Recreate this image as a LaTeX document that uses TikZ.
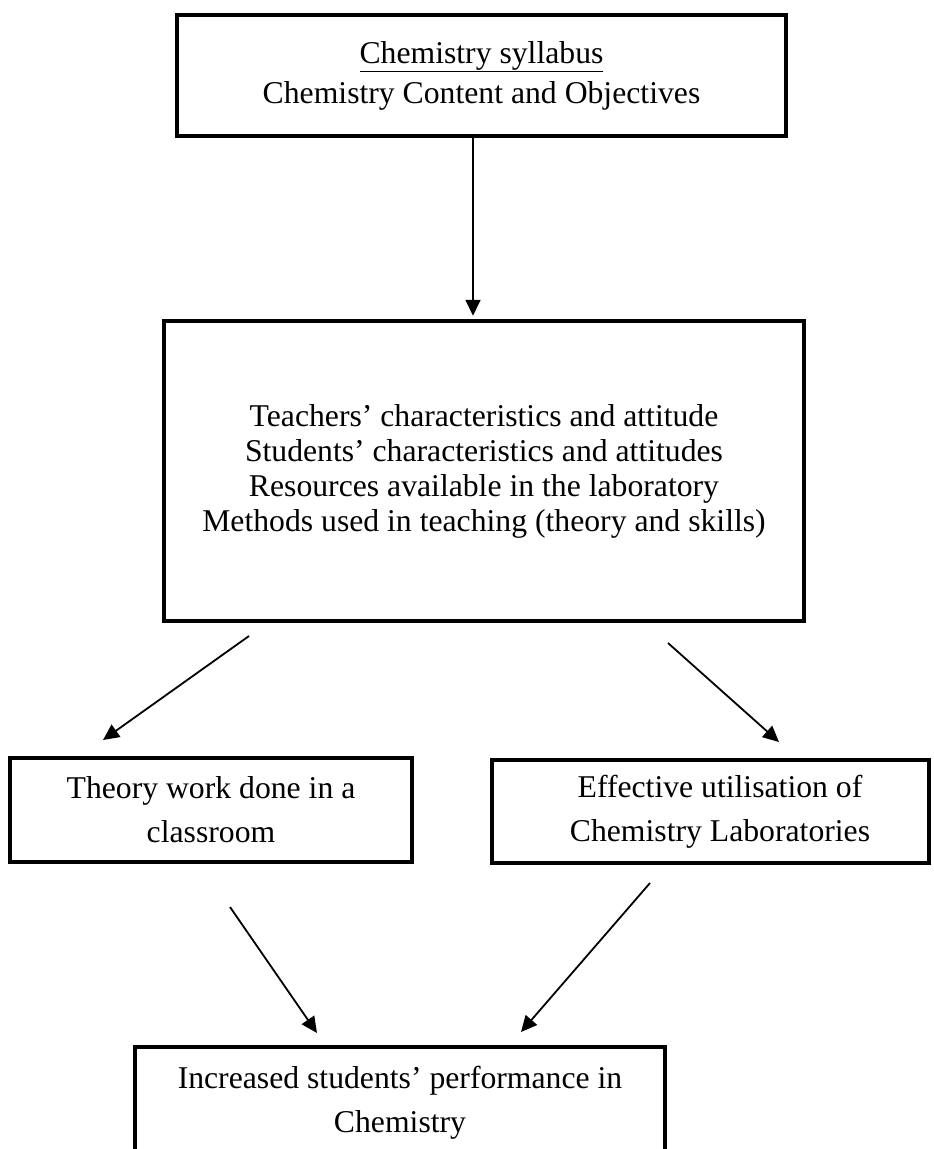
\documentclass[tikz,border=0pt]{standalone}
\usepackage{fontspec}
\setmainfont{Liberation Serif}
\usetikzlibrary{arrows.meta}
\begin{document}
\begin{tikzpicture}[x=1pt,y=-1pt,
  box/.style={draw=black, line width=4.5pt, align=center, inner sep=0pt},
  txt/.style={font=\fontsize{31.7}{#1}\selectfont},
  arr/.style={line width=1.8pt, -{Triangle[length=16pt,width=15pt]}}]
\useasboundingbox (0,0) rectangle (934,1149);
\clip (0,0) rectangle (934,1149);
\node[box, txt=40, minimum width=609pt, minimum height=121pt] (top) at (481.5,75.5)
  {\underline{Chemistry syllabus}\\Chemistry Content and Objectives};
\node[box, txt=35, minimum width=640pt, minimum height=300pt] (mid) at (484,471)
  {Teachers’ characteristics and attitude\\Students’ characteristics and attitudes\\Resources available in the laboratory\\Methods used in teaching (theory and skills)};
\node[box, txt=44, minimum width=402pt, minimum height=104pt] (left) at (211,810)
  {Theory work done in a\\classroom};
\node[box, txt=44, minimum width=437pt, minimum height=103pt] (right) at (710.5,811.5)
  {\hspace*{19pt}Effective utilisation of\\\hspace*{19pt}Chemistry Laboratories};
\node[box, txt=44, minimum width=530pt, minimum height=112pt] (bot) at (400,1103)
  {Increased students’ performance in\\Chemistry};
\coordinate (a1) at (249,636);
\coordinate (b1) at (103,740);
\coordinate (a2) at (668,643);
\coordinate (b2) at (779,742);
\coordinate (a3) at (230,907);
\coordinate (b3) at (317,1033);
\coordinate (a4) at (650,883);
\coordinate (b4) at (521,1032);
\draw[arr] ([xshift=-8.5pt]top.south) -- ([xshift=-11pt,yshift=3pt]mid.north);
\draw[arr] (a1) -- (b1);
\draw[arr] (a2) -- (b2);
\draw[arr] (a3) -- (b3);
\draw[arr] (a4) -- (b4);
\end{tikzpicture}
\end{document}
